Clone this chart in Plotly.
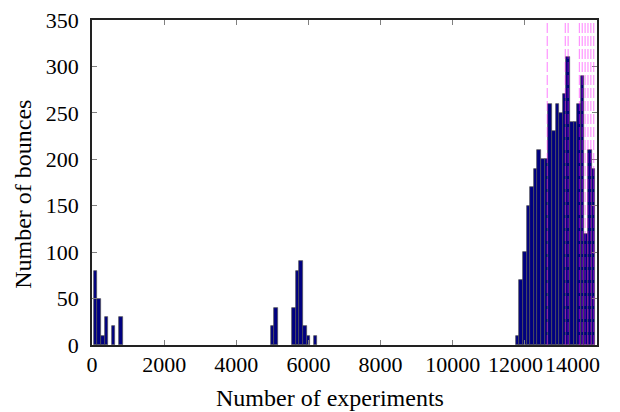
import plotly.graph_objects as go

# Histogram bins (bin centre, number of bounces)
bin_x = [100, 200, 300, 400, 600, 800,
         5000, 5100, 5600, 5700, 5800, 5900, 6000, 6200,
         11800, 11900, 12000, 12100, 12200, 12300, 12400, 12500, 12600,
         12700, 12800, 12900, 13000, 13100, 13200, 13300, 13400, 13500,
         13600, 13700, 13800, 13900]
bounces = [80, 50, 10, 30, 20, 30,
           20, 40, 40, 80, 90, 20, 10, 10,
           10, 70, 100, 150, 170, 190, 210, 200, 200,
           260, 230, 260, 250, 270, 310, 240, 240, 260,
           290, 120, 210, 190]

# Dashed marker lines (experiment numbers)
marker_x = [12620, 13120, 13200, 13510, 13590, 13670, 13750, 13830, 13910]

x_ticks = [0, 2000, 4000, 6000, 8000, 10000, 12000, 14000]
x_ticktext = ["0", "2000", "4000", "6000", "8000", "10000", "", ""]
y_ticks = [0, 50, 100, 150, 200, 250, 300, 350]

x_title = "Number of experiments"
y_title = "Number of bounces"

FONT = "Liberation Serif, Times New Roman, serif"
TICK_SIZE = 22

fig = go.Figure()
fig.add_trace(go.Bar(
    x=bin_x, y=bounces, width=100,
    marker=dict(color="#000080", line=dict(color="#505050", width=0.7)),
    showlegend=False,
))

for mx in marker_x:
    fig.add_shape(type="line", xref="x", yref="paper", x0=mx, x1=mx, y0=0, y1=1,
                  line=dict(color="rgba(255,0,255,0.5)", width=1, dash="10px,3px"),
                  layer="above")

# last two x tick labels, squeezed inside the figure like the reference
fig.add_annotation(text="12000", xref="x", yref="paper", x=12000, y=0,
                   xanchor="center", yanchor="middle", xshift=-9, yshift=-19,
                   showarrow=False, font=dict(family=FONT, size=TICK_SIZE, color="black"))
fig.add_annotation(text="14000", xref="x", yref="paper", x=14000, y=0,
                   xanchor="right", yanchor="middle", xshift=5, yshift=-19,
                   showarrow=False, font=dict(family=FONT, size=TICK_SIZE, color="black"))
# axis titles
fig.add_annotation(text=x_title, xref="paper", yref="paper", x=0.471, y=-0.162,
                   xanchor="center", yanchor="middle", showarrow=False,
                   font=dict(family=FONT, size=24, color="black"))
fig.add_annotation(text=y_title, xref="paper", yref="paper", x=-0.1366, y=0.462,
                   xanchor="center", yanchor="middle", showarrow=False, textangle=-90,
                   font=dict(family=FONT, size=24, color="black"))

axis_common = dict(showline=True, linecolor="#222222", linewidth=1.5, mirror="allticks",
                   ticks="inside", ticklen=5, tickcolor="#808080", tickwidth=1,
                   showgrid=False, zeroline=False, automargin=False,
                   ticklabeloverflow="allow",
                   tickfont=dict(family=FONT, size=TICK_SIZE, color="black"))

fig.update_layout(
    width=612, height=404,
    margin=dict(l=84, r=23, t=12, b=67),
    paper_bgcolor="white", plot_bgcolor="white",
    bargap=0,
    xaxis=dict(range=[0, 14000], tickvals=x_ticks, ticktext=x_ticktext,
               ticklabelstandoff=-1, **axis_common),
    yaxis=dict(range=[0, 350], tickvals=y_ticks,
               ticklabelstandoff=7, **axis_common),
)

fig.write_html("out.html")
